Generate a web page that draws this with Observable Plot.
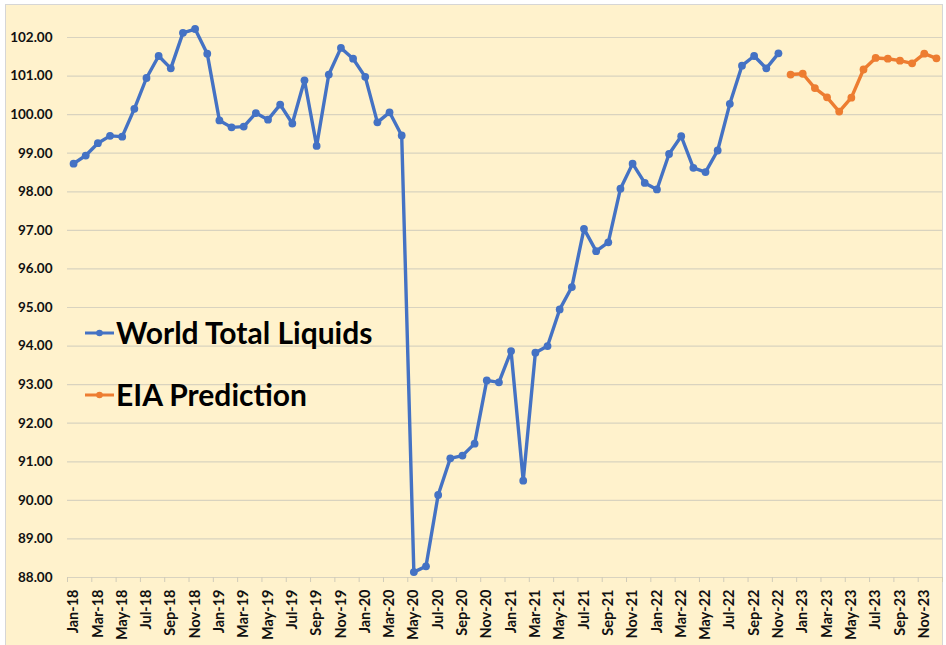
<!DOCTYPE html>
<html>
<head>
<meta charset="utf-8">
<script src="https://cdn.jsdelivr.net/npm/d3@7"></script>
<script src="https://cdn.jsdelivr.net/npm/@observablehq/plot@0.6"></script>
<style>
  html, body { margin: 0; padding: 0; background: #ffffff; }
  #wrap { position: relative; width: 946px; height: 645px; overflow: hidden; }
  #bg { position: absolute; left: 5px; top: 4px; width: 938px; height: 660px;
        background: #FFF2CC; border: 1px solid #d6d6d6; box-sizing: border-box; }
  #chart { position: absolute; left: 0; top: 0; }
</style>
</head>
<body>
<div id="wrap"><div id="bg"></div><div id="chart"></div></div>
<script>
const months = [
  "Jan-18","Feb-18","Mar-18","Apr-18","May-18","Jun-18","Jul-18","Aug-18","Sep-18","Oct-18","Nov-18","Dec-18",
  "Jan-19","Feb-19","Mar-19","Apr-19","May-19","Jun-19","Jul-19","Aug-19","Sep-19","Oct-19","Nov-19","Dec-19",
  "Jan-20","Feb-20","Mar-20","Apr-20","May-20","Jun-20","Jul-20","Aug-20","Sep-20","Oct-20","Nov-20","Dec-20",
  "Jan-21","Feb-21","Mar-21","Apr-21","May-21","Jun-21","Jul-21","Aug-21","Sep-21","Oct-21","Nov-21","Dec-21",
  "Jan-22","Feb-22","Mar-22","Apr-22","May-22","Jun-22","Jul-22","Aug-22","Sep-22","Oct-22","Nov-22","Dec-22",
  "Jan-23","Feb-23","Mar-23","Apr-23","May-23","Jun-23","Jul-23","Aug-23","Sep-23","Oct-23","Nov-23","Dec-23"
];

// World Total Liquids, Jan-18 .. Nov-22 (million b/d)
const worldTotalLiquids = [
  98.73, 98.94, 99.26, 99.45, 99.43, 100.15, 100.95, 101.52, 101.20, 102.12, 102.22, 101.58,
  99.85, 99.67, 99.69, 100.04, 99.87, 100.26, 99.77, 100.89, 99.19, 101.04, 101.73, 101.45,
  100.98, 99.80, 100.06, 99.46, 88.14, 88.29, 90.14, 91.09, 91.16, 91.47, 93.11, 93.06,
  93.87, 90.51, 93.83, 94.00, 94.95, 95.53, 97.04, 96.46, 96.69, 98.08, 98.73, 98.23,
  98.06, 98.98, 99.44, 98.62, 98.51, 99.07, 100.28, 101.27, 101.52, 101.20, 101.59
];

// EIA Prediction, Dec-22 .. Dec-23
const eiaStartMonth = "Dec-22";
const eiaPrediction = [
  101.04, 101.06, 100.69, 100.45, 100.08, 100.44, 101.17, 101.47, 101.45, 101.40, 101.33, 101.58, 101.46
];

const yTicks = [88, 89, 90, 91, 92, 93, 94, 95, 96, 97, 98, 99, 100, 101, 102];
const seriesNames = ["World Total Liquids", "EIA Prediction"];
const seriesColors = ["#4472C4", "#ED7D31"];

const world = worldTotalLiquids.map((v, i) => ({i, v}));
const eiaStart = months.indexOf(eiaStartMonth);
const eia = eiaPrediction.map((v, j) => ({i: eiaStart + j, v}));

const labelIdx = months.map((m, i) => i).filter(i => i % 2 === 0);
const boundaries = months.map((m, i) => i - 0.5).filter((b, k) => k % 2 === 0).concat([months.length - 0.5]);

const plot = Plot.plot({
  width: 946,
  height: 645,
  marginLeft: 67,
  marginRight: 4,
  marginTop: 37,
  marginBottom: 68,
  style: {background: "transparent", fontFamily: "Lato, sans-serif", color: "#000"},
  x: {type: "linear", domain: [-0.5, months.length - 0.5], label: null},
  y: {domain: [88, 102], label: null},
  marks: [
    Plot.gridY(yTicks, {stroke: "#d9d3bf", strokeOpacity: 1, strokeWidth: 1.2}),
    Plot.axisX(boundaries, {tickSize: 5, tickFormat: () => "", stroke: "#d0cbb8", label: null}),
    Plot.axisX(labelIdx, {tickSize: 0, tickPadding: 12, tickRotate: -90, tickFormat: i => months[i],
      fontWeight: "bold", fontSize: 14.5, fill: "#111", label: null}),
    Plot.axisY(yTicks, {tickSize: 0, tickPadding: 15, tickFormat: d => d.toFixed(2),
      fontWeight: "bold", fontSize: 13.5, fill: "#111", label: null}),
    Plot.line(world, {x: "i", y: "v", stroke: seriesColors[0], strokeWidth: 3.4}),
    Plot.dot(world, {x: "i", y: "v", fill: seriesColors[0], r: 3.9}),
    Plot.line(eia, {x: "i", y: "v", stroke: seriesColors[1], strokeWidth: 3.4}),
    Plot.dot(eia, {x: "i", y: "v", fill: seriesColors[1], r: 3.9})
  ]
});
document.getElementById("chart").appendChild(plot);

// Legend
const svg = d3.select(plot);
const lg = svg.append("g").attr("class", "legend");
seriesNames.forEach((name, k) => {
  const cy = 333 + k * 62;
  const g = lg.append("g");
  g.append("line").attr("x1", 85).attr("x2", 114).attr("y1", cy).attr("y2", cy)
    .attr("stroke", seriesColors[k]).attr("stroke-width", 3);
  g.append("circle").attr("cx", 99.5).attr("cy", cy).attr("r", 3.3).attr("fill", seriesColors[k]);
  g.append("text").attr("x", 116).attr("y", cy + 11)
    .attr("text-anchor", "start")
    .attr("font-family", "Lato, sans-serif").attr("font-weight", "bold").attr("font-size", 30)
    .attr("fill", "#000").text(name);
});
</script>
</body>
</html>
